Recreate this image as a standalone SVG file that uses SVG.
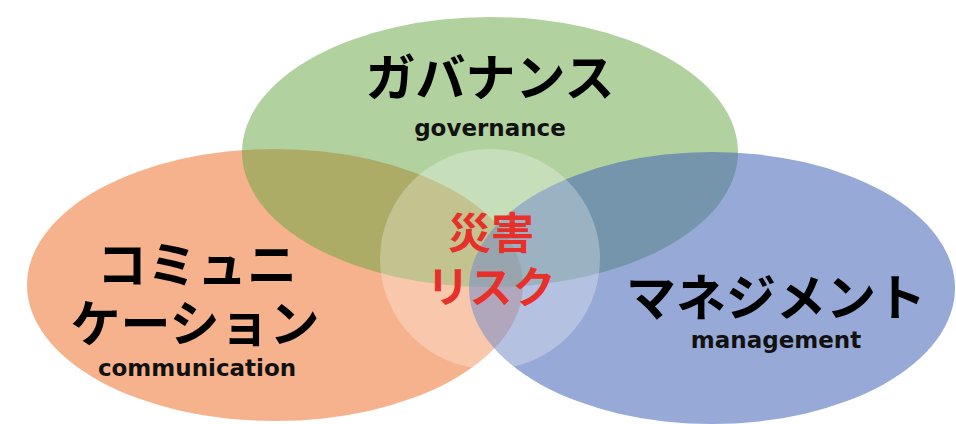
<svg xmlns="http://www.w3.org/2000/svg" width="956" height="424" viewBox="0 0 956 424">
  <style>
    .jp { font-family: "Noto Sans CJK JP", "Noto Sans", sans-serif; font-weight: 700; text-anchor: middle; fill: #000; }
    .big { font-size: 50px; }
    .en { font-family: "DejaVu Sans", Verdana, sans-serif; font-weight: 700; font-size: 23px; text-anchor: middle; fill: #111; }
    .risk { font-family: "Noto Sans CJK JP", sans-serif; font-weight: 700; font-size: 43px; text-anchor: middle; fill: #e8302a; }
  </style>
  <rect width="956" height="424" fill="#ffffff"/>

  <!-- communication -->
  <g id="communication">
    <ellipse cx="275" cy="285" rx="248" ry="136" fill="#ed7330" fill-opacity="0.55"/>
  </g>
  <!-- governance -->
  <g id="governance">
    <ellipse cx="490" cy="152" rx="248" ry="135" fill="#63a53f" fill-opacity="0.5"/>
  </g>
  <!-- management -->
  <g id="management">
    <ellipse cx="712" cy="288" rx="243" ry="136" fill="#4162b4" fill-opacity="0.55"/>
  </g>
  <!-- disaster risk at the centre -->
  <g id="risk">
    <circle cx="490" cy="259" r="110" fill="#ffffff" fill-opacity="0.28"/>
  </g>

  <g id="connectors"></g>

  <g id="labels">
    <text class="jp big" x="490" y="96">ガバナンス</text>
    <text class="en" x="490" y="136">governance</text>
    <text class="jp big" x="197" y="283">コミュニ</text>
    <text class="jp big" x="195" y="342">ケーション</text>
    <text class="en" x="197" y="376">communication</text>
    <text class="jp big" x="776" y="316">マネジメント</text>
    <text class="en" x="776" y="348">management</text>
    <text class="risk" x="491" y="249">災害</text>
    <text class="risk" x="491" y="303">リスク</text>
  </g>
</svg>
